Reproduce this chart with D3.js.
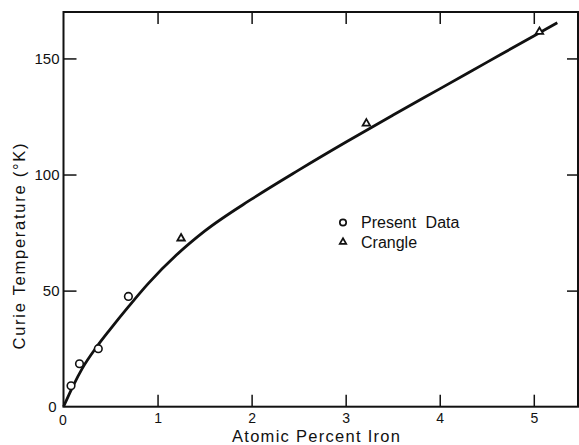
<!DOCTYPE html>
<html lang="en">
  <head>
    <meta charset="utf-8">
    <title>Curie Temperature vs Atomic Percent Iron</title>
    <style>
      body { margin: 0; background: #fff; }
      svg { display: block; }
      text { font-family: "Liberation Sans", Arial, sans-serif; fill: #111; }
    </style>
    <script src="https://d3js.org/d3.v7.min.js"></script>
  </head>
  <body>
    <script type="text/javascript">
      // data
      var presentX = [0.08, 0.17, 0.37, 0.69];
      var presentT = [9, 18.5, 25, 47.5];
      var crangleX = [1.25, 3.22, 5.06];
      var crangleT = [72.5, 122, 161.5];
      // fitted curve drawn through the data
      var curveX = [0, 0.1, 0.2, 0.35, 0.5, 0.7, 0.9, 1.2, 1.5, 2.0, 2.5, 3.0, 3.5, 4.0, 4.5, 5.0, 5.25];
      var curveT = [0, 8.8, 16.5, 25.6, 33.5, 43.5, 53, 65.3, 75.6, 89.4, 101.9, 113.9, 125.5, 136.9, 148.3, 159.7, 165.4];
      var xTicks = [0, 1, 2, 3, 4, 5];
      var yTicks = [0, 50, 100, 150];

      var w = 579, h = 445;
      var plotL = 63.5, plotR = 578, plotT = 12, plotB = 406.7;

      var svg = d3.select("body").append("svg")
                  .attr("width", w)
                  .attr("height", h);

      var x = d3.scaleLinear().domain([0, 5.47]).range([plotL, plotR]);
      var y = d3.scaleLinear().domain([0, 170]).range([plotB, plotT]);

      // axes, ticks pointing inward
      var xAxis = d3.axisBottom(x).tickValues(xTicks).tickSize(-12).tickPadding(6)
                    .tickFormat(d3.format("d"));
      var yAxis = d3.axisLeft(y).tickValues(yTicks).tickSize(-13).tickPadding(4)
                    .tickFormat(d3.format("d"));

      var gx = svg.append("g").attr("transform", "translate(0," + plotB + ")").call(xAxis);
      var gy = svg.append("g").attr("transform", "translate(" + plotL + ",0)").call(yAxis);
      svg.append("g").attr("transform", "translate(0," + plotT + ")")
         .call(d3.axisTop(x).tickValues(xTicks.slice(1)).tickSize(-12).tickFormat(""));
      svg.append("g").attr("transform", "translate(" + plotR + ",0)")
         .call(d3.axisRight(y).tickValues(yTicks.slice(1)).tickSize(-11).tickFormat(""));

      svg.selectAll(".domain").remove();
      svg.selectAll(".tick line").attr("stroke", "#111").attr("stroke-width", 1.5);
      svg.selectAll(".tick line").filter(function (d) { return d === 0; }).remove();

      gx.selectAll("text").style("font-size", "14px").attr("fill", "#111");
      gx.selectAll(".tick").filter(function (d) { return d === 0; })
        .select("text").attr("dx", "-1px").attr("dy", "0.9em");
      gy.selectAll("text").style("font-size", "15px").attr("fill", "#111");
      gy.selectAll(".tick").filter(function (d) { return d === 0; })
        .select("text").attr("dx", "-3px");

      // frame
      svg.append("rect")
         .attr("x", plotL).attr("y", plotT)
         .attr("width", plotR - plotL).attr("height", plotB - plotT)
         .attr("fill", "none").attr("stroke", "#111").attr("stroke-width", 2);

      // curve
      var line = d3.line()
                   .x(function (d, i) { return x(curveX[i]); })
                   .y(function (d, i) { return y(curveT[i]); })
                   .curve(d3.curveMonotoneX);
      svg.append("path")
         .attr("d", line(curveX))
         .attr("fill", "none").attr("stroke", "#111").attr("stroke-width", 2.8);

      // present data (circles)
      svg.selectAll("circle.present")
         .data(presentX)
         .enter().append("circle")
         .attr("class", "present")
         .attr("cx", function (d) { return x(d); })
         .attr("cy", function (d, i) { return y(presentT[i]); })
         .attr("r", 3.8)
         .attr("fill", "#fff").attr("stroke", "#111").attr("stroke-width", 1.6);

      // Crangle (triangles)
      var tri = d3.symbol().type(d3.symbolTriangle).size(24);
      svg.selectAll("path.crangle")
         .data(crangleX)
         .enter().append("path")
         .attr("class", "crangle")
         .attr("d", tri)
         .attr("transform", function (d, i) { return "translate(" + x(d) + "," + y(crangleT[i]) + ")"; })
         .attr("fill", "#fff").attr("stroke", "#111").attr("stroke-width", 1.8);

      // legend
      svg.append("circle").attr("cx", 343).attr("cy", 222.5).attr("r", 3.2)
         .attr("fill", "#fff").attr("stroke", "#111").attr("stroke-width", 1.7);
      svg.append("path").attr("d", d3.symbol().type(d3.symbolTriangle).size(18))
         .attr("transform", "translate(343,242)")
         .attr("fill", "#fff").attr("stroke", "#111").attr("stroke-width", 1.7);
      svg.append("text").attr("x", 361).attr("y", 228).style("font-size", "16px")
         .style("word-spacing", "5px").text("Present Data");
      svg.append("text").attr("x", 361).attr("y", 248).style("font-size", "16px")
         .text("Crangle");

      // axis titles
      svg.append("text")
         .attr("x", 316).attr("y", 442)
         .attr("text-anchor", "middle")
         .attr("textLength", 168).attr("lengthAdjust", "spacing")
         .style("font-size", "16.5px")
         .text("Atomic Percent Iron");
      svg.append("text")
         .attr("transform", "translate(25,246.5) rotate(-90)")
         .attr("text-anchor", "middle")
         .attr("textLength", 206).attr("lengthAdjust", "spacing")
         .style("font-size", "16.5px")
         .text("Curie Temperature (°K)");
    </script>
  </body>
</html>
